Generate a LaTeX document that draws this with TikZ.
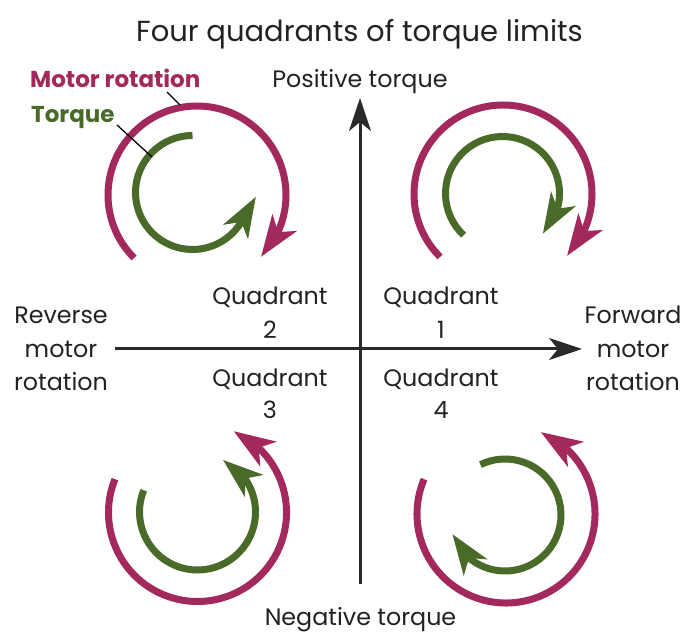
\documentclass[tikz,border=0pt]{standalone}
\usepackage{fontspec}
\setmainfont{Poppins}
\usetikzlibrary{arrows.meta,bending,calc}
\definecolor{mag}{HTML}{A3295C}
\definecolor{grn}{HTML}{4A6A2A}
\definecolor{ink}{HTML}{222222}
\definecolor{axisc}{HTML}{2A2A2A}
\begin{document}
\begin{tikzpicture}[x=1pt,y=1pt,
  lbl/.style={font=\fontsize{23.8}{28}\selectfont, text=ink, anchor=base, inner sep=0pt},
  ttl/.style={font=\fontsize{29}{33}\selectfont, text=ink, anchor=base, inner sep=0pt},
  keylbl/.style={font=\bfseries\fontsize{23}{27}\selectfont, anchor=base west, inner sep=0pt},
  axis/.style={draw=axisc, line width=3pt, -{Stealth[length=33pt,width=22pt,inset=9pt]}},
  rot/.style={draw=mag, line width=7pt, -{Stealth[length=41pt,width=29pt,inset=11pt,flex]}},
  trq/.style={draw=grn, line width=7pt, -{Stealth[length=40pt,width=28pt,inset=11pt,flex]}},
  leader/.style={draw=black, line width=1.3pt}
]
\useasboundingbox (0,0) rectangle (687,636);
\fill[white] (0,0) rectangle (687,636);

% title
\node[ttl] (title) at (359.5,594.3) {Four quadrants of torque limits};

% axes
\coordinate (hl) at (115,287);
\coordinate (hr) at (582,287);
\coordinate (vb) at (360,52);
\coordinate (vt) at (360,538);
\draw[axis] (hl) -- (hr);
\draw[axis] (vb) -- (vt);

% axis labels
\node[lbl] (pos) at (360,548.7) {Positive torque};
\node[lbl] (neg) at (360.5,10) {Negative torque};
\node[lbl] (rev1) at (61,312.7) {Reverse};
\node[lbl] (rev2) at (61,278.7) {motor};
\node[lbl] (rev3) at (61,245.3) {rotation};
\node[lbl] (fwd1) at (633,312.7) {Forward};
\node[lbl] (fwd2) at (633,278.7) {motor};
\node[lbl] (fwd3) at (633,245.3) {rotation};

% quadrant labels
\node[lbl] (q2a) at (270,331) {Quadrant};
\node[lbl] (q2b) at (270,297.7) {2};
\node[lbl] (q1a) at (441,331) {Quadrant};
\node[lbl] (q1b) at (441,297.7) {1};
\node[lbl] (q3a) at (270,249.3) {Quadrant};
\node[lbl] (q3b) at (270,217.7) {3};
\node[lbl] (q4a) at (441,249.3) {Quadrant};
\node[lbl] (q4b) at (441,217.7) {4};

% key
\node[keylbl, text=mag] (kmot) at (30,548.7) {Motor rotation};
\node[keylbl, text=grn] (ktrq) at (31,513.3) {Torque};

% Quadrant 2 (top left)
\coordinate (c2m) at (197,441);
\coordinate (c2t) at (192.5,443.5);
\draw[rot] ($(c2m)+(225:89)$) arc[start angle=225, end angle=-44, radius=89];
\draw[trq] ($(c2t)+(90:57)$) arc[start angle=90, end angle=330, radius=57] -- ++(60:28);

% Quadrant 1 (top right)
\coordinate (c1m) at (503,442);
\coordinate (c1t) at (502.5,442.5);
\draw[rot] ($(c1m)+(225:89)$) arc[start angle=225, end angle=-44, radius=89];
\draw[trq] ($(c1t)+(227:57)$) arc[start angle=227, end angle=-45, radius=57];

% Quadrant 3 (bottom left)
\coordinate (c3m) at (197.5,123.5);
\coordinate (c3t) at (197.5,124);
\draw[rot] ($(c3m)+(158:89)$) arc[start angle=158, end angle=426, radius=89];
\draw[trq] ($(c3t)+(158:58)$) arc[start angle=158, end angle=424, radius=58];

% Quadrant 4 (bottom right)
\coordinate (c4m) at (506,122);
\coordinate (c4t) at (505,121);
\draw[rot] ($(c4m)+(157:89)$) arc[start angle=157, end angle=427, radius=89];
\draw[trq] ($(c4t)+(116:56)$) arc[start angle=116, end angle=-160, radius=56];

% leaders
\coordinate (lm1) at (167,544);
\coordinate (lm2) at (180,531);
\coordinate (lt1) at (117,511);
\coordinate (lt2) at (152,479);
\draw[leader] (lm1) -- (lm2);
\draw[leader] (lt1) -- (lt2);
\end{tikzpicture}
\end{document}
